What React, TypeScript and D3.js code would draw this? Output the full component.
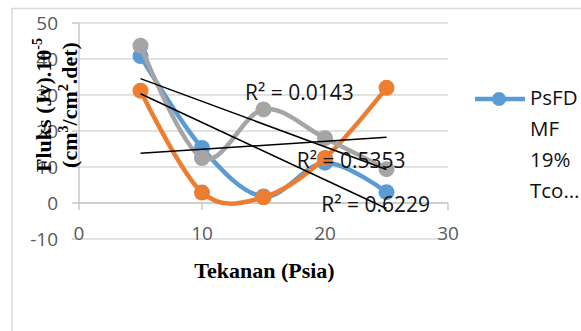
import React from "react";
import * as d3 from "d3";

// Tekanan (Psia) vs Fluks
const pressure = [5, 10, 15, 20, 25];
const fluxBlue = [40.8, 15.3, 1.8, 11.2, 3.0];
const fluxOrange = [31.2, 2.9, 1.6, 12.5, 32.0];
const fluxGray = [43.7, 12.5, 26.0, 18.0, 9.4];
const seriesColors = ["#5B9BD5", "#ED7D31", "#A5A5A5"];
const r2Labels = ["R² = 0.6229", "R² = 0.0143", "R² = 0.5353"];
const xTicks = [0, 10, 20, 30];
const yTicks = [-10, 0, 10, 20, 30, 40, 50];
const legendLines = ["PsFD", "MF", "19%", "Tco…"];

const W = 581;
const H = 331;
const sans = "'Open Sans', sans-serif";
const serif = "'Liberation Serif', 'Times New Roman', serif";

// least squares fit for the trendlines
function fit(xs: number[], ys: number[]) {
  const mx = d3.mean(xs)!;
  const my = d3.mean(ys)!;
  const sxy = d3.sum(xs, (x, i) => (x - mx) * (ys[i] - my));
  const sxx = d3.sum(xs, (x) => (x - mx) * (x - mx));
  const slope = sxy / sxx;
  return (x: number) => my + slope * (x - mx);
}

export default function App() {
  const x = d3.scaleLinear().domain([0, 30]).range([79, 448]);
  const y = d3.scaleLinear().domain([-10, 50]).range([239, 23]);

  const series = [fluxBlue, fluxOrange, fluxGray];
  const line = d3
    .line<number>()
    .x((_, i) => x(pressure[i]))
    .y((d) => y(d))
    .curve(d3.curveCardinal.tension(0));

  // where the R² boxes were dragged to (data units)
  const labelPos = [
    [19.7, -2.5],
    [13.5, 28.6],
    [17.7, 9.7],
  ];

  const x0 = d3.min(pressure)!;
  const x1 = d3.max(pressure)!;

  return (
    <svg
      width={W}
      height={H}
      style={{ position: "absolute", left: 0, top: 0, background: "#fff" }}
    >
      <rect x={12} y={8.5} width={700} height={500} fill="none" stroke="#d9d9d9" strokeWidth={1.5} />

      {/* gridlines */}
      {yTicks.map((t) => (
        <line key={t} x1={x(0)} x2={x(30)} y1={y(t)} y2={y(t)} stroke="#d9d9d9" strokeWidth={1.5} />
      ))}
      {/* y axis */}
      <line x1={x(0)} x2={x(0)} y1={y(50)} y2={y(0)} stroke="#c8c8c8" strokeWidth={1.5} />
      {yTicks.map((t) => (
        <line key={t} x1={x(0) - 7} x2={x(0)} y1={y(t)} y2={y(t)} stroke="#c8c8c8" strokeWidth={1.5} />
      ))}
      {/* x axis at 0 */}
      <line x1={x(0)} x2={x(30)} y1={y(0)} y2={y(0)} stroke="#c8c8c8" strokeWidth={1.5} />
      {xTicks.map((t) => (
        <line key={t} x1={x(t)} x2={x(t)} y1={y(0)} y2={y(0) + 7} stroke="#c8c8c8" strokeWidth={1.5} />
      ))}

      {yTicks.map((t) => (
        <text key={t} x={58} y={y(t)} dy="0.35em" textAnchor="end" fontFamily={sans} fontSize={19} fill="#595959">
          {t}
        </text>
      ))}
      {xTicks.map((t) => (
        <text key={t} x={x(t)} y={240} textAnchor="middle" fontFamily={sans} fontSize={19} fill="#595959">
          {t}
        </text>
      ))}

      {series.map((s, k) => (
        <g key={k}>
          <path d={line(s) ?? ""} fill="none" stroke={seriesColors[k]} strokeWidth={4.5} strokeLinecap="round" />
          {s.map((v, i) => (
            <circle key={i} cx={x(pressure[i])} cy={y(v)} r={8} fill={seriesColors[k]} />
          ))}
        </g>
      ))}

      {series.map((s, k) => {
        const f = fit(pressure, s);
        return (
          <line key={k} x1={x(x0)} y1={y(f(x0))} x2={x(x1)} y2={y(f(x1))} stroke="#000" strokeWidth={1.5} />
        );
      })}

      {r2Labels.map((lab, k) => (
        <text key={k} x={x(labelPos[k][0])} y={y(labelPos[k][1])} fontFamily={sans} fontSize={21} fill="#111">
          {lab}
        </text>
      ))}

      {/* axis titles */}
      <text x={264.5} y={278} textAnchor="middle" fontFamily={serif} fontWeight="bold" fontSize={22} fill="#000">
        Tekanan (Psia)
      </text>
      <g transform="translate(51,105) rotate(-90)">
        <text textAnchor="middle" fontFamily={serif} fontWeight="bold" fontSize={22} fill="#000">
          Fluks (Jv).10
          <tspan fontSize={14} dy={-9}>-5</tspan>
        </text>
      </g>
      <g transform="translate(77,105) rotate(-90)">
        <text textAnchor="middle" fontFamily={serif} fontWeight="bold" fontSize={22} fill="#000">
          (cm<tspan fontSize={14} dy={-9}>3</tspan>
          <tspan dy={9}>/cm</tspan>
          <tspan fontSize={14} dy={-9}>2</tspan>
          <tspan dy={9}>.det)</tspan>
        </text>
      </g>

      {/* legend, only the first entry fits */}
      <line x1={475} x2={525} y1={99} y2={99} stroke={seriesColors[0]} strokeWidth={4.5} />
      <circle cx={499} cy={99} r={7} fill={seriesColors[0]} />
      {legendLines.map((t, i) => (
        <text key={i} x={530} y={105 + i * 31} fontFamily={sans} fontSize={20.5} fill="#111">
          {t}
        </text>
      ))}
    </svg>
  );
}
